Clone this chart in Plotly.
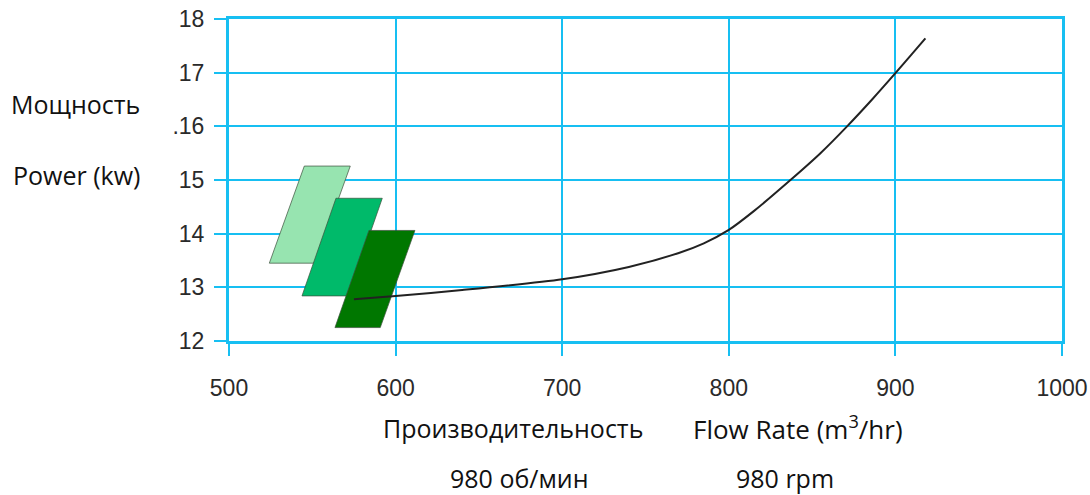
import plotly.graph_objects as go

# Power curve: flow rate (m3/hr) vs power (kW)
flow = [575, 600, 640, 700, 740, 770, 785, 800, 815, 837, 855, 871, 886, 900, 910, 918]
power = [12.78, 12.84, 12.95, 13.15, 13.38, 13.64, 13.82, 14.07, 14.42, 15.0,
         15.5, 16.0, 16.5, 16.99, 17.35, 17.64]

# Operating zones (parallelograms): corners BL, BR, TR, TL
zone_names = ["zone light", "zone medium", "zone dark"]
zone_x = [
    [524.2, 551.8, 572.8, 545.2],
    [543.8, 571.6, 592.0, 564.2],
    [563.6, 590.8, 611.6, 584.0],
]
zone_y = [
    [13.45, 13.45, 15.26, 15.26],
    [12.84, 12.84, 14.66, 14.66],
    [12.25, 12.25, 14.06, 14.06],
]
zone_colors = ["#97E4B0", "#00BA6A", "#007700"]

x_ticks = [500, 600, 700, 800, 900, 1000]
y_ticks = [12, 13, 14, 15, 16, 17, 18]
y_tick_text = ["12", "13", "14", "15", ".16", "17", "18"]

grid = "#17BFF2"

W, H = 1090, 495
L, T, R, B = 229, 19, 28, 154

fig = go.Figure()
for xs, ys, c, n in zip(zone_x, zone_y, zone_colors, zone_names):
    fig.add_trace(go.Scatter(
        x=xs + [xs[0]], y=ys + [ys[0]], mode="lines", fill="toself",
        fillcolor=c, line=dict(color="rgba(60,80,60,0.7)", width=1),
        name=n, hoverinfo="skip"))

fig.add_trace(go.Scatter(
    x=flow, y=power, mode="lines",
    line=dict(color="#222222", width=2, shape="spline", smoothing=0.7),
    name="Power"))

fig.update_layout(
    width=W, height=H,
    margin=dict(l=L, r=R, t=T, b=B, autoexpand=False),
    paper_bgcolor="white", plot_bgcolor="white",
    showlegend=False,
    font=dict(family="Liberation Sans, Arial", size=23, color="#2a2a2a"),
)
fig.update_xaxes(
    range=[500, 1000], tickvals=x_ticks, showgrid=True, gridcolor=grid, gridwidth=2,
    showline=True, linecolor=grid, linewidth=3, mirror=True,
    ticks="outside", ticklen=12, tickwidth=2, tickcolor=grid,
    ticklabelstandoff=12, zeroline=False, automargin=False,
    ticklabeloverflow="allow",
)
fig.update_yaxes(
    range=[12, 18], tickvals=y_ticks, ticktext=y_tick_text, showgrid=True,
    gridcolor=grid, gridwidth=2,
    showline=True, linecolor=grid, linewidth=3, mirror=True,
    ticks="outside", ticklen=12, tickwidth=2, tickcolor=grid,
    ticklabelstandoff=5, zeroline=False, automargin=False,
    ticklabeloverflow="allow",
)

label_font = dict(family="Open Sans, sans-serif", size=25, color="#111111")
texts = [
    ("Мощность", 75, 104, 25),
    ("Power (kw)", 76, 175, 25),
    ("Производительность", 513, 428, 25),
    ("Flow Rate (m<sup>3</sup>/hr)", 798, 428, 26),
    ("980 об/мин", 519, 478, 25),
    ("980 rpm", 785, 478, 25),
]
pw = W - L - R
ph = H - T - B
for t, px, py, fs in texts:
    fig.add_annotation(
        text=t, xref="paper", yref="paper",
        x=(px - L) / pw, y=1 - (py - T) / ph,
        xanchor="center", yanchor="middle", showarrow=False,
        font=dict(label_font, size=fs))

fig.write_html(
    "out.html",
    config={"displayModeBar": False},
    post_script="document.body.style.margin='0';document.body.style.overflow='hidden';",
)
